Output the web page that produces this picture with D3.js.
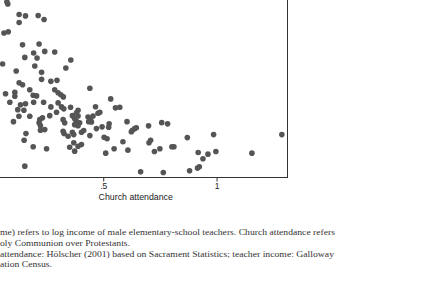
<!DOCTYPE html>
<html>
<head>
<meta charset="utf-8">
<script src="https://cdn.jsdelivr.net/npm/d3@7"></script>
<style>
  html, body { margin: 0; padding: 0; background: #fff; }
  svg { display: block; }
</style>
</head>
<body>
<svg id="chart" width="432" height="306"></svg>
<script>
// church attendance (share taking Holy Communion) per region
const attendance = [
    0.075, 0.079, 0.129, 0.157, 0.129, 0.213, 0.239, 0.062, 0.081, 0.144,
    0.217, 0.193, 0.242, 0.286, 0.154, 0.208, 0.056, 0.357, 0.198, 0.335,
    0.116, 0.228, 0.228, 0.269, 0.296, 0.129, 0.144, 0.176, 0.286, 0.441,
    0.069, 0.110, 0.110, 0.191, 0.206, 0.301, 0.313, 0.324, 0.533, 0.088,
    0.135, 0.157, 0.193, 0.237, 0.269, 0.301, 0.316, 0.326, 0.356, 0.389,
    0.123, 0.150, 0.176, 0.128, 0.104, 0.220, 0.232, 0.217, 0.223, 0.264,
    0.294, 0.323, 0.330, 0.364, 0.374, 0.382, 0.374, 0.466, 0.485, 0.477,
    0.554, 0.573, 0.433, 0.444, 0.455, 0.448, 0.436, 0.382, 0.389, 0.396,
    0.389, 0.605, 0.526, 0.524, 0.495, 0.470, 0.629, 0.639, 0.646, 0.624,
    0.700, 0.758, 0.784, 0.223, 0.242, 0.323, 0.327, 0.364, 0.370, 0.414,
    0.404, 0.159, 0.151, 0.345, 0.441, 0.504, 0.517, 0.587, 0.702, 0.709,
    0.370, 0.352, 0.389, 0.404, 0.374, 0.191, 0.250, 0.548, 0.609, 0.511,
    0.726, 0.750, 0.803, 0.812, 0.871, 0.987, 1.288, 0.919, 0.962, 0.940,
    0.997, 1.156, 0.154, 0.665, 0.765, 0.881, 0.916, 0.924
];

// log income of male elementary-school teachers, same order
const teacherIncome = [
    7.880, 7.870, 7.817, 7.810, 7.777, 7.812, 7.792, 7.724, 7.730, 7.665,
    7.669, 7.624, 7.632, 7.629, 7.602, 7.599, 7.569, 7.589, 7.559, 7.549,
    7.534, 7.527, 7.492, 7.482, 7.487, 7.475, 7.465, 7.440, 7.440, 7.447,
    7.420, 7.427, 7.407, 7.412, 7.409, 7.425, 7.415, 7.404, 7.394, 7.377,
    7.365, 7.370, 7.377, 7.377, 7.354, 7.374, 7.354, 7.344, 7.352, 7.337,
    7.340, 7.337, 7.307, 7.307, 7.280, 7.290, 7.299, 7.274, 7.260, 7.310,
    7.327, 7.290, 7.274, 7.310, 7.294, 7.282, 7.265, 7.355, 7.327, 7.322,
    7.349, 7.352, 7.303, 7.290, 7.308, 7.278, 7.280, 7.324, 7.308, 7.274,
    7.260, 7.280, 7.269, 7.252, 7.254, 7.245, 7.237, 7.245, 7.249, 7.229,
    7.259, 7.275, 7.269, 7.237, 7.240, 7.232, 7.220, 7.227, 7.215, 7.235,
    7.227, 7.220, 7.187, 7.207, 7.210, 7.202, 7.194, 7.179, 7.174, 7.187,
    7.174, 7.152, 7.157, 7.165, 7.132, 7.154, 7.144, 7.144, 7.137, 7.122,
    7.130, 7.144, 7.154, 7.154, 7.200, 7.215, 7.215, 7.125, 7.117, 7.094,
    7.130, 7.122, 7.057, 7.029, 7.025, 7.034, 7.047, 7.054
];

// the 0 tick sits left of the visible area, so only these two show
const xTicks = [0.5, 1];
const xTickLabels = [".5", "1"];
const xTitle = "Church attendance";

const noteLines = [
    "me) refers to log income of male elementary-school teachers.  Church attendance refers",
    "oly Communion over Protestants.",
    "attendance: H\u00f6lscher (2001) based on Sacrament Statistics; teacher income: Galloway",
    "ation Census."
];

const svg = d3.select('#chart');
const plot = {left: -16, right: 287.5, top: -22, bottom: 177.5};

const x = d3.scaleLinear().domain([-0.026, 1.313]).range([plot.left, plot.right]);
const y = d3.scaleLinear().domain([7.0, 8.0]).range([plot.bottom, plot.top]);

svg.append('rect')
    .attr('width', 432).attr('height', 306)
    .attr('fill', '#fff');

// points
svg.append('g')
    .selectAll('circle')
    .data(d3.zip(attendance, teacherIncome))
    .join('circle')
    .attr('cx', d => x(d[0]))
    .attr('cy', d => y(d[1]))
    .attr('r', 2.8)
    .attr('fill', '#555');

// plot frame
svg.append('rect')
    .attr('x', plot.left).attr('y', plot.top)
    .attr('width', plot.right - plot.left)
    .attr('height', plot.bottom - plot.top)
    .attr('fill', 'none')
    .attr('stroke', '#333')
    .attr('stroke-width', 1);

// x axis
const xAxis = svg.append('g')
    .attr('transform', `translate(0,${plot.bottom})`)
    .call(d3.axisBottom(x)
        .tickValues(xTicks)
        .tickFormat((d, i) => xTickLabels[i])
        .tickSize(4)
        .tickPadding(1));
xAxis.select('.domain').remove();
xAxis.selectAll('line').attr('stroke', '#333');
xAxis.selectAll('text')
    .attr('fill', '#222')
    .style('font-family', '"Liberation Sans", Arial, sans-serif')
    .style('font-size', '8.5px');

svg.append('text')
    .attr('x', (plot.left + plot.right) / 2)
    .attr('y', 200)
    .attr('text-anchor', 'middle')
    .attr('fill', '#222')
    .style('font-family', '"Liberation Sans", Arial, sans-serif')
    .style('font-size', '8.8px')
    .text(xTitle);

// notes below the figure
const noteWidths = [335, 130, 334, 52];
svg.append('g')
    .selectAll('text')
    .data(noteLines)
    .join('text')
    .attr('x', 0)
    .attr('y', (d, i) => 235 + i * 10.8)
    .attr('textLength', (d, i) => noteWidths[i])
    .attr('lengthAdjust', 'spacingAndGlyphs')
    .attr('fill', '#333')
    .style('font-family', '"Liberation Serif", "Times New Roman", serif')
    .style('font-size', '9.2px')
    .text(d => d);
</script>
</body>
</html>
